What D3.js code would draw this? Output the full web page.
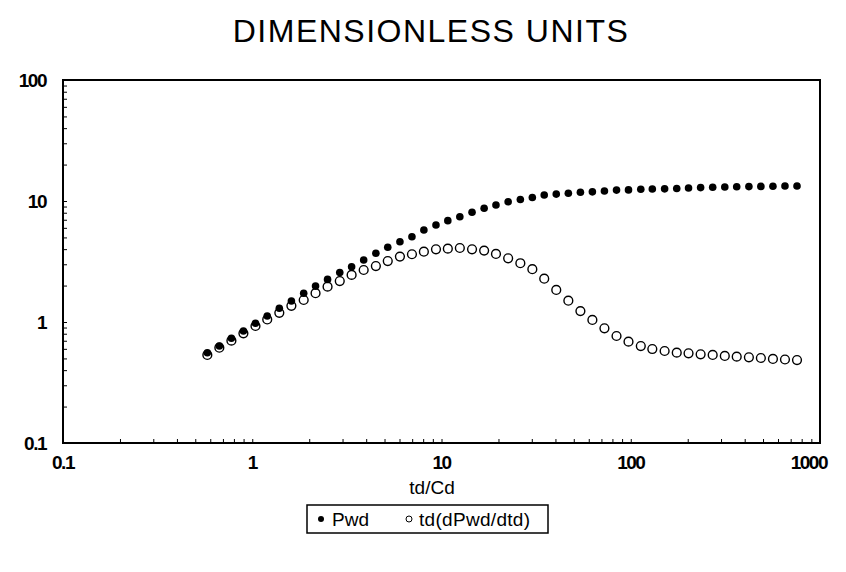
<!DOCTYPE html>
<html>
<head>
<meta charset="utf-8">
<script src="https://cdn.jsdelivr.net/npm/d3@7/dist/d3.min.js"></script>
<style>
  html, body { margin: 0; padding: 0; background: #fff; }
  svg { display: block; }
  text { font-family: "Liberation Sans", Arial, sans-serif; fill: #000; }
</style>
</head>
<body>
<svg id="chart" width="846" height="572"></svg>
<script>
const titleText = "DIMENSIONLESS UNITS";
const xAxisTitle = "td/Cd";
const seriesNames = ["Pwd", "td(dPwd/dtd)"];

const xTickValues = [0.1, 1, 10, 100, 1000];
const xTickLabels = ["0.1", "1", "10", "100", "1000"];
const yTickValues = [0.1, 1, 10, 100];
const yTickLabels = ["0.1", "1", "10", "100"];

const tdCd = [0.579, 0.670, 0.776, 0.898, 1.04, 1.20, 1.39, 1.61, 1.87, 2.16,
  2.50, 2.90, 3.35, 3.88, 4.50, 5.20, 6.03, 6.98, 8.07, 9.35,
  10.8, 12.5, 14.5, 16.8, 19.4, 22.5, 26.1, 30.2, 34.9, 40.4,
  46.8, 54.2, 62.7, 72.6, 84.1, 97.3, 113, 130, 151, 175,
  202, 234, 271, 314, 363, 421, 487, 564, 653, 756];

const pwd = [0.557, 0.633, 0.733, 0.843, 0.976, 1.12, 1.30, 1.49, 1.73, 1.98,
  2.25, 2.56, 2.86, 3.25, 3.70, 4.15, 4.61, 5.07, 5.76, 6.33,
  6.88, 7.42, 8.07, 8.70, 9.27, 9.87, 10.3, 10.7, 11.2, 11.4,
  11.6, 11.8, 11.9, 12.1, 12.3, 12.35, 12.5, 12.55, 12.6, 12.7,
  12.8, 12.9, 13.0, 13.05, 13.1, 13.15, 13.2, 13.25, 13.3, 13.3];

const derivative = [0.534, 0.613, 0.701, 0.806, 0.927, 1.05, 1.19, 1.36, 1.52, 1.73,
  1.96, 2.18, 2.45, 2.69, 2.90, 3.19, 3.47, 3.63, 3.81, 3.99,
  4.04, 4.09, 3.99, 3.89, 3.65, 3.36, 3.06, 2.73, 2.28, 1.84,
  1.50, 1.23, 1.04, 0.887, 0.766, 0.688, 0.633, 0.598, 0.576, 0.558,
  0.551, 0.541, 0.534, 0.524, 0.517, 0.511, 0.504, 0.495, 0.490, 0.485];

const svg = d3.select("#chart");
const plot = { left: 63, right: 820, top: 80, bottom: 443 };

const x = d3.scaleLog().domain([0.1, 1000]).range([plot.left, plot.right]);
const y = d3.scaleLog().domain([0.1, 100]).range([plot.bottom, plot.top]);

// Title
svg.append("text")
  .attr("x", 431).attr("y", 42)
  .attr("text-anchor", "middle")
  .style("font-size", "32px")
  .style("letter-spacing", "1.5px")
  .text(titleText);

function logTicks(domain) {
  const out = [];
  for (let p = Math.log10(domain[0]); p < Math.log10(domain[1]); p++) {
    for (let m = 1; m <= 9; m++) out.push(m * Math.pow(10, p));
  }
  out.push(domain[1]);
  return out;
}

const xAxis = d3.axisTop(x).tickValues(logTicks([0.1, 1000])).tickSize(4).tickFormat("");
const gx = svg.append("g").attr("transform", `translate(0,${plot.bottom})`).call(xAxis);
gx.select(".domain").remove();
gx.selectAll("line").attr("stroke", "#000").attr("stroke-width", 1);

const yAxis = d3.axisRight(y).tickValues(logTicks([0.1, 100])).tickSize(4).tickFormat("");
const gy = svg.append("g").attr("transform", `translate(${plot.left},0)`).call(yAxis);
gy.select(".domain").remove();
gy.selectAll("line").attr("stroke", "#000").attr("stroke-width", 1);

// Frame
svg.append("rect")
  .attr("x", plot.left).attr("y", plot.top)
  .attr("width", plot.right - plot.left).attr("height", plot.bottom - plot.top)
  .attr("fill", "none").attr("stroke", "#000").attr("stroke-width", 2);

// Tick labels
const lastX = xTickValues[xTickValues.length - 1];
svg.append("g").selectAll("text").data(xTickValues).join("text")
  .attr("x", d => d === lastX ? x(d) + 7 : x(d)).attr("y", plot.bottom + 26)
  .attr("text-anchor", d => d === lastX ? "end" : "middle")
  .style("font-size", "19px").style("font-weight", "bold").style("letter-spacing", "-1.5px")
  .text((d, i) => xTickLabels[i]);

svg.append("g").selectAll("text").data(yTickValues).join("text")
  .attr("x", plot.left - 17).attr("y", d => y(d) + 7)
  .attr("text-anchor", "end")
  .style("font-size", "19px").style("font-weight", "bold").style("letter-spacing", "-1.5px")
  .text((d, i) => yTickLabels[i]);

// Axis title
svg.append("text")
  .attr("x", 432).attr("y", 494)
  .attr("text-anchor", "middle")
  .style("font-size", "19px")
  .text(xAxisTitle);

// Data
const data = tdCd.map((t, i) => ({ t, p: pwd[i], d: derivative[i] }));

svg.append("g").selectAll("circle").data(data).join("circle")
  .attr("cx", d => x(d.t)).attr("cy", d => y(d.d))
  .attr("r", 4.4)
  .attr("fill", "#fff").attr("stroke", "#000").attr("stroke-width", 1.4);

svg.append("g").selectAll("circle").data(data).join("circle")
  .attr("cx", d => x(d.t)).attr("cy", d => y(d.p))
  .attr("r", 3.8)
  .attr("fill", "#000");

// Legend
const lg = svg.append("g");
lg.append("rect")
  .attr("x", 307).attr("y", 505).attr("width", 241).attr("height", 28)
  .attr("fill", "#fff").attr("stroke", "#000").attr("stroke-width", 1.5);
lg.append("circle").attr("cx", 321).attr("cy", 519).attr("r", 3).attr("fill", "#000");
lg.append("text").attr("x", 332).attr("y", 526).style("font-size", "19px").text(seriesNames[0]);
lg.append("circle").attr("cx", 409).attr("cy", 519).attr("r", 3)
  .attr("fill", "#fff").attr("stroke", "#000").attr("stroke-width", 1);
lg.append("text").attr("x", 419).attr("y", 526).style("font-size", "19px")
  .style("letter-spacing", "0.3px").text(seriesNames[1]);
</script>
</body>
</html>
